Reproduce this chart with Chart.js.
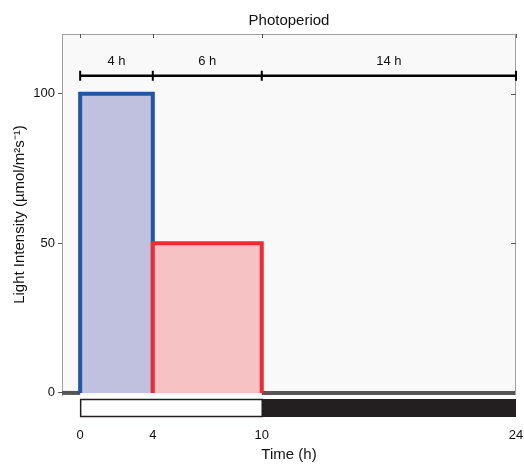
<!DOCTYPE html>
<html>
<head>
<meta charset="utf-8">
<script src="https://cdn.jsdelivr.net/npm/chart.js@4/dist/chart.umd.min.js"></script>
<style>
  html, body { margin: 0; padding: 0; background: #fff; overflow: hidden; }
  canvas { display: block; }
</style>
</head>
<body>
<canvas id="chart" width="524" height="467"></canvas>
<script>
// Photoperiod: light intensity steps over a 24 h day

var stepTimes = [0, 4, 10, 24];        // phase boundaries (h)
var phaseIntensity = [100, 50, 0];     // µmol/m²s⁻¹ in each phase
var phaseLabels = ['4 h', '6 h', '14 h'];
var lightPeriod = [0, 10];
var darkPeriod = [10, 24];
var xTicks = [0, 4, 10, 24];
var yTicks = [0, 50, 100];
var bracketLevel = 106;
var bracketTextLevel = 110.7;
var chartTitle = 'Photoperiod';

var FONT = 'Liberation Sans, Arial, Helvetica, sans-serif';

function rect(i) {
  return [
    { x: stepTimes[i], y: 0 },
    { x: stepTimes[i], y: phaseIntensity[i] },
    { x: stepTimes[i + 1], y: phaseIntensity[i] },
    { x: stepTimes[i + 1], y: 0 }
  ];
}

var baseStyle = {
  fill: 'origin',
  borderWidth: 4,
  pointRadius: 0,
  tension: 0,
  borderJoinStyle: 'miter',
  borderCapStyle: 'butt'
};

var datasets = [
  Object.assign({}, baseStyle, {
    label: 'high', data: rect(0), order: 2,
    borderColor: '#1f56a6', backgroundColor: '#bfc1df'
  }),
  Object.assign({}, baseStyle, {
    label: 'low', data: rect(1), order: 1,
    borderColor: '#ee2b2e', backgroundColor: '#f7c2c3'
  }),
  Object.assign({}, baseStyle, {
    label: 'off-left', fill: false, order: 3,
    data: [{ x: -1, y: phaseIntensity[2] }, { x: stepTimes[0], y: phaseIntensity[2] }],
    borderColor: '#555555'
  }),
  Object.assign({}, baseStyle, {
    label: 'off', fill: false, order: 3,
    data: [{ x: stepTimes[2], y: phaseIntensity[2] }, { x: stepTimes[3], y: phaseIntensity[2] }],
    borderColor: '#555555'
  })
];

// plot background
var plotBg = {
  id: 'plotBg',
  beforeDraw: function (chart) {
    var a = chart.chartArea, ctx = chart.ctx;
    ctx.save();
    ctx.fillStyle = '#f9f9f9';
    ctx.fillRect(a.left, a.top, a.right - a.left, a.bottom - a.top);
    ctx.restore();
  }
};

// title over the axes, box frame, inner ticks, period brackets and light/dark bar
var extras = {
  id: 'extras',
  afterDraw: function (chart) {
    var a = chart.chartArea, ctx = chart.ctx;
    var xs = chart.scales.x, ys = chart.scales.y;
    ctx.save();

    ctx.fillStyle = '#111';
    ctx.font = '15px ' + FONT;
    ctx.textAlign = 'center';
    ctx.textBaseline = 'middle';
    ctx.fillText(chartTitle, (a.left + a.right) / 2, a.top - 13);

    // frame top + right
    ctx.strokeStyle = '#a0a0a0';
    ctx.lineWidth = 1;
    ctx.beginPath();
    ctx.moveTo(a.left, a.top + 0.5);
    ctx.lineTo(a.right - 0.5, a.top + 0.5);
    ctx.lineTo(a.right - 0.5, a.bottom);
    ctx.stroke();

    ctx.strokeStyle = '#555';
    ctx.beginPath();
    xTicks.forEach(function (t) {
      var px = Math.round(xs.getPixelForValue(t)) + 0.5;
      ctx.moveTo(px, a.top);
      ctx.lineTo(px, a.top + 4);
    });
    yTicks.forEach(function (t) {
      var py = Math.round(ys.getPixelForValue(t)) + 0.5;
      if (t === 0) return;
      ctx.moveTo(a.right, py);
      ctx.lineTo(a.right - 5, py);
    });
    ctx.stroke();

    // brackets
    var by = ys.getPixelForValue(bracketLevel);
    var ty = ys.getPixelForValue(bracketTextLevel);
    ctx.strokeStyle = '#000';
    ctx.lineWidth = 2.5;
    ctx.beginPath();
    ctx.moveTo(xs.getPixelForValue(stepTimes[0]), by);
    ctx.lineTo(xs.getPixelForValue(stepTimes[stepTimes.length - 1]), by);
    ctx.stroke();
    ctx.lineWidth = 2;
    ctx.beginPath();
    stepTimes.forEach(function (t) {
      var px = xs.getPixelForValue(t);
      ctx.moveTo(px, by - 5);
      ctx.lineTo(px, by + 5);
    });
    ctx.stroke();

    ctx.fillStyle = '#111';
    ctx.font = '13px ' + FONT;
    phaseLabels.forEach(function (lab, i) {
      var mid = (stepTimes[i] + stepTimes[i + 1]) / 2;
      ctx.fillText(lab, xs.getPixelForValue(mid), ty);
    });

    // light / dark bar under the plot
    var top = a.bottom + 4.5, h = 17;
    var l0 = xs.getPixelForValue(lightPeriod[0]), l1 = xs.getPixelForValue(lightPeriod[1]);
    var d0 = xs.getPixelForValue(darkPeriod[0]), d1 = xs.getPixelForValue(darkPeriod[1]);
    ctx.fillStyle = '#231f20';
    ctx.fillRect(d0, top - 0.5, d1 - d0, h + 1);
    ctx.fillStyle = '#ffffff';
    ctx.fillRect(l0, top, l1 - l0, h);
    ctx.strokeStyle = '#231f20';
    ctx.lineWidth = 1.5;
    ctx.strokeRect(l0 + 0.5, top, l1 - l0, h);

    ctx.restore();
  }
};

new Chart(document.getElementById('chart'), {
  type: 'line',
  data: { datasets: datasets },
  options: {
    responsive: false,
    animation: false,
    events: [],
    layout: { padding: { left: 0, right: 8, top: 34, bottom: 0 } },
    scales: {
      x: {
        type: 'linear',
        min: -1,
        max: 24,
        afterBuildTicks: function (s) { s.ticks = xTicks.map(function (v) { return { value: v }; }); },
        afterFit: function (s) { s.height = 72; s.paddingLeft = 0; s.paddingRight = 0; },
        grid: { display: false, drawTicks: false },
        border: { display: false },
        ticks: {
          padding: 33,
          color: '#111',
          font: { family: FONT, size: 13 },
          maxRotation: 0,
          autoSkip: false
        },
        title: {
          display: true,
          text: 'Time (h)',
          color: '#111',
          font: { family: FONT, size: 15 },
          padding: { top: 0, bottom: 3 }
        }
      },
      y: {
        min: -0.7,
        max: 120,
        afterBuildTicks: function (s) { s.ticks = yTicks.map(function (v) { return { value: v }; }); },
        afterFit: function (s) { s.width = 62; s.paddingTop = 0; s.paddingBottom = 0; },
        grid: { drawOnChartArea: false, drawTicks: true, tickLength: 4, color: '#555' },
        border: { display: true, color: '#a0a0a0', width: 1 },
        ticks: {
          padding: 3,
          color: '#111',
          font: { family: FONT, size: 13 }
        },
        title: {
          display: true,
          text: 'Light Intensity (µmol/m²s⁻¹)',
          color: '#111',
          font: { family: FONT, size: 15 },
          padding: { top: 11, bottom: 0 }
        }
      }
    },
    plugins: {
      legend: { display: false },
      tooltip: { enabled: false },
      title: { display: false }
    }
  },
  plugins: [plotBg, extras]
});
</script>
</body>
</html>
